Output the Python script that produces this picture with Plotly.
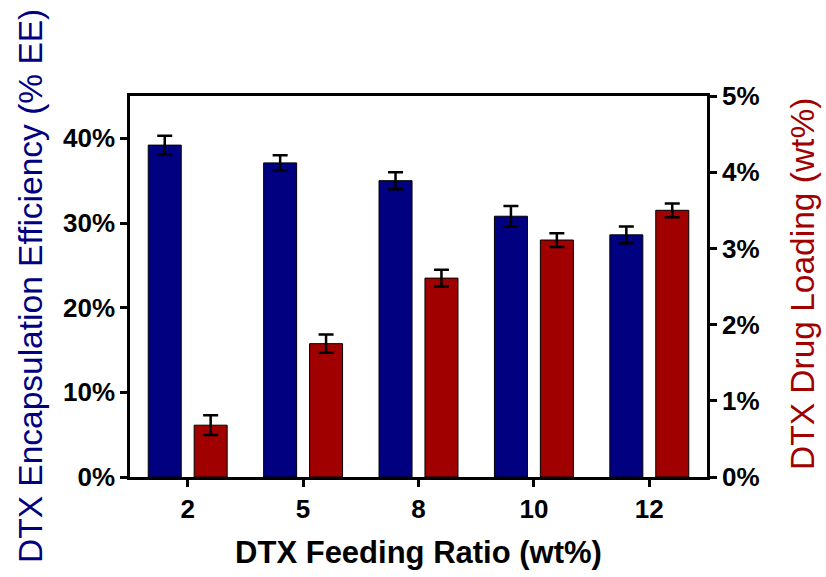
import plotly.graph_objects as go

categories = ["2", "5", "8", "10", "12"]
ee_values = [39.2, 37.1, 35.0, 30.8, 28.6]
ee_errors = [1.1, 0.9, 1.0, 1.2, 1.0]
dl_values = [0.68, 1.75, 2.61, 3.11, 3.50]
dl_errors = [0.13, 0.12, 0.11, 0.09, 0.09]
ee_ticks = [0, 10, 20, 30, 40]
dl_ticks = [0, 1, 2, 3, 4, 5]

BLUE = "#000080"
RED = "#A00000"
FONT = "Arial, Liberation Sans, sans-serif"
TICKSIZE = 26
TITLESIZE = 31
YTITLESIZE = 33.5

fig = go.Figure()
fig.add_trace(go.Bar(
    x=categories, y=ee_values, yaxis="y",
    width=0.286, offset=-0.342,
    marker=dict(color=BLUE, line=dict(color="black", width=1)),
    error_y=dict(type="data", array=ee_errors, color="black", thickness=2.5, width=7.5),
    showlegend=False,
))
fig.add_trace(go.Bar(
    x=categories, y=dl_values, yaxis="y2",
    width=0.286, offset=0.056,
    marker=dict(color=RED, line=dict(color="black", width=1)),
    error_y=dict(type="data", array=dl_errors, color="black", thickness=2.5, width=7.5),
    showlegend=False,
))

fig.update_layout(
    width=826, height=577,
    margin=dict(l=130, r=119, t=96, b=98),
    paper_bgcolor="white", plot_bgcolor="white",
    barmode="overlay",
    font=dict(family=FONT, color="black"),
    xaxis=dict(
        type="category", range=[-0.5, 4.5],
        showline=True, linecolor="black", linewidth=2.5, mirror=True,
        ticks="outside", ticklen=7, tickwidth=2.5, tickcolor="black",
        tickfont=dict(size=TICKSIZE, weight="bold"),
        showgrid=False, zeroline=False,
        title=dict(text="DTX Feeding Ratio (wt%)", font=dict(size=TITLESIZE, weight="bold"), standoff=19),
    ),
    yaxis=dict(
        range=[0, 45], tickvals=ee_ticks, ticktext=[f"{v}%" for v in ee_ticks],
        showline=True, linecolor="black", linewidth=2.5,
        ticks="outside", ticklen=7, tickwidth=2.5, tickcolor="black",
        tickfont=dict(size=TICKSIZE, weight="bold"),
        showgrid=False, zeroline=False,
    ),
    yaxis2=dict(
        range=[0, 5], tickvals=dl_ticks, ticktext=[f"{v}%" for v in dl_ticks],
        overlaying="y", side="right",
        showline=True, linecolor="black", linewidth=2.5,
        ticks="outside", ticklen=7, tickwidth=2.5, tickcolor="black",
        tickfont=dict(size=TICKSIZE, weight="bold"),
        showgrid=False, zeroline=False,
    ),
    annotations=[
        dict(text="DTX Encapsulation Efficiency (% EE)", xref="paper", yref="paper",
             x=(30 - 130) / 577, y=1 - (287 - 96) / 383, xanchor="center", yanchor="middle",
             textangle=-90, showarrow=False,
             font=dict(size=YTITLESIZE, color=BLUE)),
        dict(text="DTX Drug Loading (wt%)", xref="paper", yref="paper",
             x=(802 - 130) / 577, y=1 - (285 - 96) / 383, xanchor="center", yanchor="middle",
             textangle=-90, showarrow=False,
             font=dict(size=YTITLESIZE, color=RED)),
    ],
)

fig.write_html("out.html", config={"displayModeBar": False},
               post_script="document.body.style.margin='0';")
